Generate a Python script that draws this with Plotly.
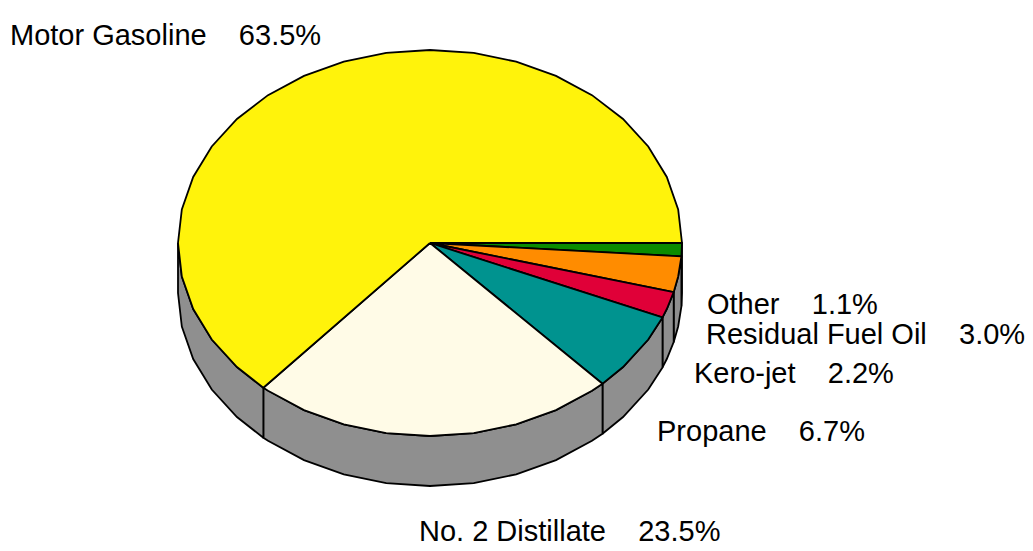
import numpy as np
import plotly.graph_objects as go

# ---- data ----
labels = ["Other", "Residual Fuel Oil", "Kero-jet", "Propane", "No. 2 Distillate", "Motor Gasoline"]
values = [1.1, 3.0, 2.2, 6.7, 23.5, 63.5]
colors = ["#0A8C00", "#FF8C00", "#E00038", "#00938F", "#FFFBE7", "#FFF30B"]
side_color = "#8F8F8F"

# ---- geometry (pixel-like axes) ----
W, H = 1033, 551
OFF = 8  # page body margin
CX, CY = 430, 243
RX, RY = 252, 193
DEPTH = 50
STEP = np.deg2rad(10)

def arc(t1, t2):
    grid = np.arange(np.ceil(t1 / STEP) * STEP, t2, STEP)
    ts = np.concatenate([[t1], grid[grid > t1 + 1e-9], [t2]])
    return ts

fig = go.Figure()
total = sum(values)
bounds = np.concatenate([[0], np.cumsum(values) / total * 2 * np.pi])

# sides (front half)
for i in range(len(values)):
    a, b = max(bounds[i], 0), min(bounds[i + 1], np.pi)
    if b <= a:
        continue
    ts = arc(a, b)
    xt = CX + RX * np.cos(ts)
    yt = CY + RY * np.sin(ts)
    xs = np.concatenate([xt, xt[::-1], xt[:1]])
    ys = np.concatenate([yt, (yt + DEPTH)[::-1], yt[:1]])
    fig.add_trace(go.Scatter(x=xs, y=ys, mode="lines", fill="toself",
                             fillcolor=side_color, line=dict(color="black", width=1.8),
                             hoverinfo="skip", showlegend=False))

# tops
for i in range(len(values)):
    ts = arc(bounds[i], bounds[i + 1])
    xs = np.concatenate([[CX], CX + RX * np.cos(ts), [CX]])
    ys = np.concatenate([[CY], CY + RY * np.sin(ts), [CY]])
    fig.add_trace(go.Scatter(x=xs, y=ys, mode="lines", fill="toself",
                             fillcolor=colors[i], line=dict(color="black", width=1.8),
                             hoverinfo="skip", showlegend=False,
                             name=labels[i]))

# labels
label_pos = {
    "Motor Gasoline": (8, 35),
    "Other": (705, 304),
    "Residual Fuel Oil": (704, 334),
    "Kero-jet": (692, 373),
    "Propane": (655, 431),
    "No. 2 Distillate": (417, 531),
}
gap = "\u00a0" * 4
for lab, val in zip(labels, values):
    x, y = label_pos[lab]
    fig.add_annotation(x=x, y=y, xref="x", yref="y", text=f"{lab}{gap}{val:.1f}%",
                       showarrow=False, xanchor="left", yanchor="middle",
                       font=dict(family="Liberation Sans, Arial", size=29, color="black"))

fig.update_layout(width=W - OFF, height=H - OFF, margin=dict(l=0, r=0, t=0, b=0),
                  plot_bgcolor="white", paper_bgcolor="white",
                  xaxis=dict(range=[OFF, W], visible=False, fixedrange=True),
                  yaxis=dict(range=[H, OFF], visible=False, fixedrange=True))
fig.write_html("out.html")
